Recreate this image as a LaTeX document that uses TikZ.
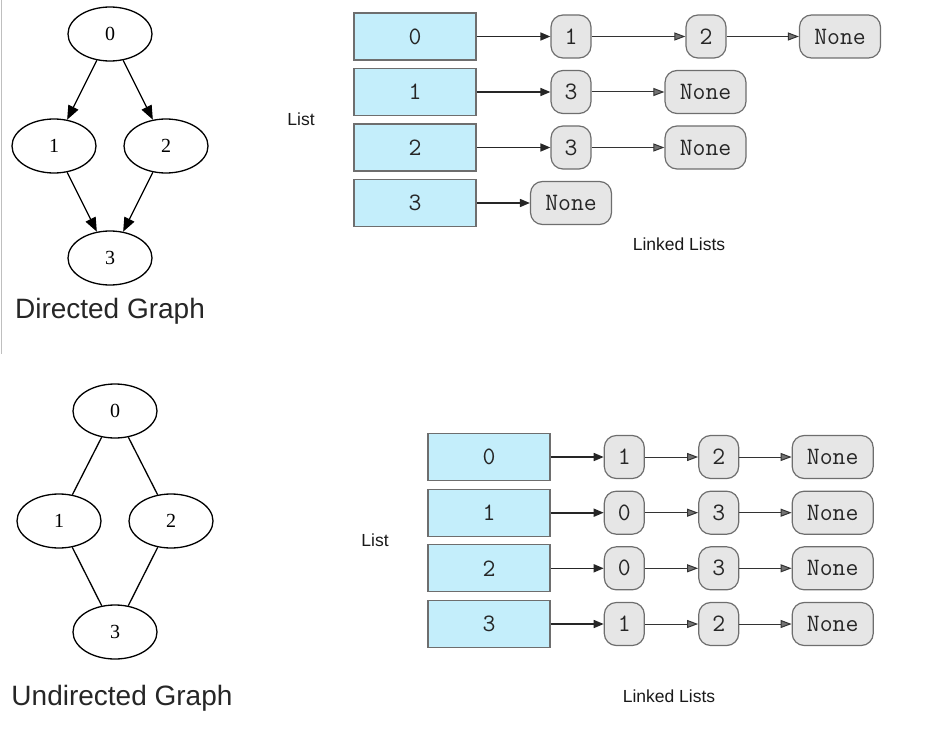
\documentclass[tikz,border=0pt]{standalone}
\usepackage{fontspec}
\setmainfont{Liberation Serif}
\setsansfont{Liberation Sans}
\usepackage{tikz}
\usetikzlibrary{arrows.meta}
\usetikzlibrary{shapes.geometric}
\definecolor{cellblue}{HTML}{C4EEFB}
\definecolor{cellgray}{HTML}{E6E6E6}
\definecolor{rimgray}{HTML}{6E6E6E}
\tikzset{vertex/.style={draw, ellipse, line width=1.3pt, minimum width=84pt, minimum height=54pt, inner sep=0pt, font=\fontsize{20}{24}\selectfont}}
\tikzset{edge/.style={line width=1.3pt}}
\tikzset{darc/.style={edge, -{Triangle[length=14pt, width=11pt]}}}
\tikzset{slot/.style={draw=rimgray, fill=cellblue, line width=1.2pt, minimum width=122pt, minimum height=47pt, inner sep=0pt, font=\ttfamily\fontsize{25}{28}\selectfont, text=black!85}}
\tikzset{cell/.style={draw=rimgray, fill=cellgray, rounded corners=12pt, line width=1.2pt, minimum width=40pt, minimum height=43pt, inner sep=0pt, font=\ttfamily\fontsize{25}{28}\selectfont, text=black!85}}
\tikzset{nonecell/.style={cell, minimum width=81pt}}
\tikzset{headlink/.style={line width=1.6pt, draw=black!85, -{Triangle[length=10pt, width=8pt]}}}
\tikzset{nextlink/.style={line width=1pt, draw=black!80, -{Triangle[length=11pt, width=8pt, fill=black!55]}}}
\tikzset{caption/.style={anchor=base, text=black!85, font=\sffamily\fontsize{28}{32}\selectfont}}
\tikzset{note/.style={anchor=base, text=black!90, font=\sffamily\fontsize{17.5}{20}\selectfont}}

\begin{document}
\begin{tikzpicture}[x=1pt, y=-1pt]
    \useasboundingbox (0,0) rectangle (942,733);
    \coordinate (EdgeN) at (1,0);
    \coordinate (EdgeS) at (1,354);
    \draw [black!25, line width=1pt] (EdgeN) -- (EdgeS);

    % directed graph
    \node [vertex] (D0) at (110, 34) {0};
    \node [vertex] (D1) at (54, 146) {1};
    \node [vertex] (D2) at (166, 146) {2};
    \node [vertex] (D3) at (110, 258) {3};
    \draw [darc] (D0) -- (D1);
    \draw [darc] (D0) -- (D2);
    \draw [darc] (D1) -- (D3);
    \draw [darc] (D2) -- (D3);
    \node [caption] (DT) at (110, 318) {Directed Graph};

    % undirected graph
    \node [vertex] (U0) at (115, 411) {0};
    \node [vertex] (U1) at (59, 521) {1};
    \node [vertex] (U2) at (171, 521) {2};
    \node [vertex] (U3) at (115, 632) {3};
    \draw [edge] (U0) -- (U1);
    \draw [edge] (U0) -- (U2);
    \draw [edge] (U1) -- (U3);
    \draw [edge] (U2) -- (U3);
    \node [caption] (UT) at (122, 705) {Undirected Graph};

    % lists of the directed graph
    \node [note] (DList) at (301, 125) {List};
    \node [slot] (DS0) at (415, 36.5) {0};
    \node [slot] (DS1) at (415, 92) {1};
    \node [slot] (DS2) at (415, 147.5) {2};
    \node [slot] (DS3) at (415, 203) {3};
    \node [cell] (DS0a) at (571, 36.5) {1};
    \node [cell] (DS0b) at (706, 36.5) {2};
    \node [nonecell] (DS0c) at (840, 36.5) {None};
    \node [cell] (DS1a) at (571, 92) {3};
    \node [nonecell] (DS1b) at (705.5, 92) {None};
    \node [cell] (DS2a) at (571, 147.5) {3};
    \node [nonecell] (DS2b) at (705.5, 147.5) {None};
    \node [nonecell] (DS3a) at (571, 203) {None};
    \draw [headlink] (DS0) -- (DS0a);
    \draw [nextlink] (DS0a) -- (DS0b);
    \draw [nextlink] (DS0b) -- (DS0c);
    \draw [headlink] (DS1) -- (DS1a);
    \draw [nextlink] (DS1a) -- (DS1b);
    \draw [headlink] (DS2) -- (DS2a);
    \draw [nextlink] (DS2a) -- (DS2b);
    \draw [headlink] (DS3) -- (DS3a);
    \node [note] (DLinked) at (679, 250) {Linked Lists};

    % lists of the undirected graph
    \node [note] (UList) at (375, 546) {List};
    \node [slot] (US0) at (489, 457) {0};
    \node [slot] (US1) at (489, 512.7) {1};
    \node [slot] (US2) at (489, 568.3) {2};
    \node [slot] (US3) at (489, 624) {3};
    \node [cell] (US0a) at (624.3, 457) {1};
    \node [cell] (US0b) at (718.7, 457) {2};
    \node [nonecell] (US0c) at (832.7, 457) {None};
    \node [cell] (US1a) at (624.3, 512.7) {0};
    \node [cell] (US1b) at (718.7, 512.7) {3};
    \node [nonecell] (US1c) at (832.7, 512.7) {None};
    \node [cell] (US2a) at (624.3, 568.3) {0};
    \node [cell] (US2b) at (718.7, 568.3) {3};
    \node [nonecell] (US2c) at (832.7, 568.3) {None};
    \node [cell] (US3a) at (624.3, 624) {1};
    \node [cell] (US3b) at (718.7, 624) {2};
    \node [nonecell] (US3c) at (832.7, 624) {None};
    \draw [headlink] (US0) -- (US0a);
    \draw [nextlink] (US0a) -- (US0b);
    \draw [nextlink] (US0b) -- (US0c);
    \draw [headlink] (US1) -- (US1a);
    \draw [nextlink] (US1a) -- (US1b);
    \draw [nextlink] (US1b) -- (US1c);
    \draw [headlink] (US2) -- (US2a);
    \draw [nextlink] (US2a) -- (US2b);
    \draw [nextlink] (US2b) -- (US2c);
    \draw [headlink] (US3) -- (US3a);
    \draw [nextlink] (US3a) -- (US3b);
    \draw [nextlink] (US3b) -- (US3c);
    \node [note] (ULinked) at (669, 702) {Linked Lists};

\end{tikzpicture}
\end{document}
